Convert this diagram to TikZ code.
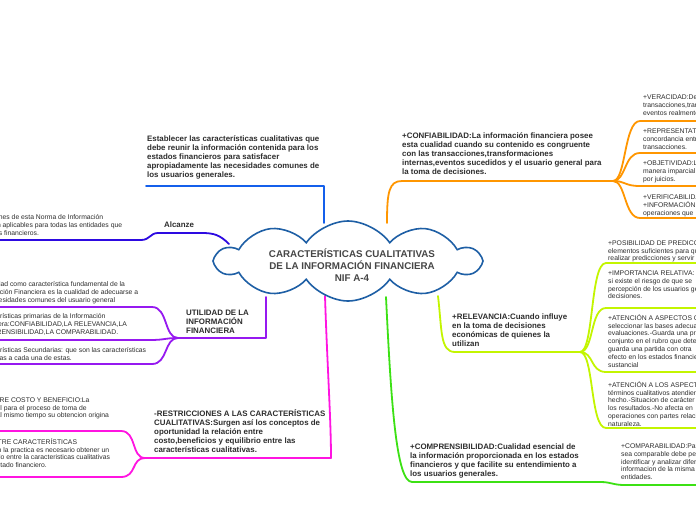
\documentclass[tikz,border=0pt]{standalone}
\usepackage{fontspec}
\setmainfont{Liberation Sans}
\usetikzlibrary{shapes.symbols}
\definecolor{cloudblue}{RGB}{30,95,165}
\definecolor{lblue}{RGB}{20,95,235}
\definecolor{lorange}{RGB}{255,150,0}
\definecolor{lindigo}{RGB}{45,10,225}
\definecolor{lpurple}{RGB}{150,25,240}
\definecolor{lmagenta}{RGB}{255,20,225}
\definecolor{lgreen}{RGB}{60,225,20}
\definecolor{llime}{RGB}{195,245,0}
\definecolor{txtgray}{RGB}{45,45,45}
\definecolor{ttlgray}{RGB}{70,70,70}
\newcommand\hbtop{\rule{0pt}{6pt}}
\newcommand\htop{\rule{0pt}{5pt}}
\begin{document}
\begin{tikzpicture}[x=1pt,y=-1pt,
 txt/.style={font=\fontsize{6.8}{7.9}\selectfont,text=txtgray,align=left,inner sep=0pt,anchor=north west},
 btxt/.style={font=\bfseries\fontsize{7.9}{9}\selectfont,text=txtgray,align=left,inner sep=0pt,anchor=north west},
 br/.style={line width=1.8pt,line cap=round,line join=round}]
\useasboundingbox (0,0) rectangle (696,520);
\clip (0,0) rectangle (696,520);
\fill[white] (0,0) rectangle (696,520);

% blue branch
\coordinate (bc) at (324,223);
\coordinate (bk) at (324,186);
\coordinate (be) at (146,186);
\draw[br,lblue] (bc) -- (bk) -- (be);

% orange branch
\coordinate (oc) at (387,223);
\coordinate (oj) at (613,181);
\draw[br,lorange] (oc) .. controls (387,192) and (389,181) .. (402,181) -- (oj);
\foreach \y/\n in {121/o1,153/o2,186/o3,218/o4}{
  \coordinate (\n) at (700,\y);
  \draw[br,lorange] (oj) .. controls (626,181) and (624,\y) .. (640,\y) -- (\n);
}

% indigo branch
\coordinate (ac) at (229,244);
\coordinate (ae) at (-5,240);
\draw[br,lindigo] (ac) .. controls (220,235) and (214,233) .. (202,233) -- (158,233) .. controls (150,233) and (150,240) .. (141,240) -- (ae);

% purple branch
\coordinate (uc) at (266,297);
\coordinate (uk) at (266,338);
\coordinate (uj) at (178,338);
\coordinate (u1) at (-5,307);
\coordinate (u2) at (-5,340);
\coordinate (u3) at (-5,364);
\draw[br,lpurple] (uc) -- (uk) -- (uj);
\draw[br,lpurple] (uj) .. controls (164,338) and (168,307) .. (152,307) -- (u1);
\draw[br,lpurple] (uj) .. controls (165,338) and (165,340) .. (150,340) -- (u2);
\draw[br,lpurple] (uj) .. controls (164,338) and (168,364) .. (152,364) -- (u3);

% magenta branch
\coordinate (rc) at (325,296);
\coordinate (rk) at (331,458);
\coordinate (rj) at (145,458);
\coordinate (r1) at (-5,431);
\coordinate (r2) at (-5,477);
\draw[br,lmagenta] (rc) .. controls (327,360) and (331,420) .. (rk) -- (rj);
\draw[br,lmagenta] (rj) .. controls (131,458) and (137,431) .. (121,431) -- (r1);
\draw[br,lmagenta] (rj) .. controls (131,458) and (137,477) .. (121,477) -- (r2);

% green branch
\coordinate (gc) at (386,297);
\coordinate (g1) at (700,485);
\draw[br,lgreen] (gc) .. controls (391,400) and (396,482) .. (412,482) -- (600,482) .. controls (612,482) and (612,485) .. (625,485) -- (g1);

% lime branch
\coordinate (lc) at (438,296);
\coordinate (lj) at (580,352);
\draw[br,llime] (lc) .. controls (442,330) and (440,352) .. (455,352) -- (lj);
\foreach \y/\n in {263/l1,308/l2,372/l3,428/l4}{
  \coordinate (\n) at (700,\y);
  \draw[br,llime] (lj) .. controls (594,352) and (590,\y) .. (606,\y) -- (\n);
}

% central cloud
\node[cloud, draw=cloudblue, line width=1.6pt, fill=white, cloud puffs=10, cloud puff arc=110, aspect=3.3, minimum width=263pt, minimum height=80pt] (cloud) at (348,261) {};
\node[font=\bfseries\fontsize{9.8}{11.7}\selectfont, text=ttlgray, align=center, inner sep=0pt] (title) at (352,265) {CARACTERÍSTICAS CUALITATIVAS\\DE LA INFORMACIÓN FINANCIERA\\NIF A-4};

% bold branch texts
\node[btxt] (estab) at (147,135.5) {\hbtop Establecer las características cualitativas que\\debe reunir la información contenida para los\\estados financieros para satisfacer\\apropiadamente las necesidades comunes de\\los usuarios generales.};
\node[btxt] (confi) at (402,132.5) {\hbtop +CONFIABILIDAD:La información financiera posee\\esta cualidad cuando su contenido es congruente\\con las transacciones,transformaciones\\internas,eventos sucedidos y el usuario general para\\la toma de decisiones.};
\node[btxt] (alc) at (164,221.5) {\hbtop Alcanze};
\node[btxt] (util) at (186,309.5) {\hbtop UTILIDAD DE LA\\INFORMACIÓN\\FINANCIERA};
\node[btxt] (restr) at (154,409.5) {\hbtop -RESTRICCIONES A LAS CARACTERÍSTICAS\\CUALITATIVAS:Surgen así los conceptos de\\oportunidad la relación entre\\costo,beneficios y equilibrio entre las\\características cualitativas.};
\node[btxt] (relev) at (452,313.5) {\hbtop +RELEVANCIA:Cuando influye\\en la toma de decisiones\\económicas de quienes la\\utilizan};
\node[btxt] (compr) at (410,443.5) {\hbtop +COMPRENSIBILIDAD:Cualidad esencial de\\la información proporcionada en los estados\\financieros y que facilite su entendimiento a\\los usuarios generales.};

% left clipped texts
\node[txt] (alct) at (-44,214) {\htop Las disposiciones de esta Norma de Información\\Financiera son aplicables para todas las entidades que\\emitan estados financieros.};
\node[txt] (ut1) at (-23,281) {\htop La utilidad como característica fundamental de la\\información Financiera es la cualidad de adecuarse a\\las necesidades comunes del usuario general};
\node[txt] (ut2) at (-24,313) {\htop Características primarias de la Información\\Financiera:CONFIABILIDAD,LA RELEVANCIA,LA\\COMPRENSIBILIDAD,LA COMPARABILIDAD.};
\node[txt] (ut3) at (-24,347) {\htop Características Secundarias: que son las características\\asociadas a cada una de estas.};
\node[txt] (rs1) at (-53,396) {\htop -RELACIÓN ENTRE COSTO Y BENEFICIO:La\\información es útil para el proceso de toma de\\decisiones pero al mismo tiempo su obtencion origina};
\node[txt] (rs2) at (-55,438) {\htop -EQUILIBRIO ENTRE CARACTERÍSTICAS\\CUALITATIVAS:en la practica es necesario obtener un\\equilibrio apropiado entre la caracteristicas cualitativas\\que contiene el estado financiero.};

% right clipped texts (orange)
\node[txt] (ver) at (643,94) {\htop +VERACIDAD:Debe\\transacciones,transformaciones\\eventos realmente};
\node[txt] (rep) at (643,128) {\htop +REPRESENTATIVIDAD:\\concordancia entre\\transacciones.};
\node[txt] (obj) at (643,160) {\htop +OBJETIVIDAD:La\\manera imparcial\\por juicios.};
\node[txt] (veri) at (643,194) {\htop +VERIFICABILIDAD:\\+INFORMACIÓN SUFICIENTE:\\operaciones que};

% right clipped texts (lime)
\node[txt] (pos) at (608,239) {\htop +POSIBILIDAD DE PREDICCIÓN\\elementos suficientes para que\\realizar predicciones y servir};
\node[txt] (imp) at (608,270) {\htop +IMPORTANCIA RELATIVA:\\si existe el riesgo de que se\\percepción de los usuarios generales\\decisiones.};
\node[txt] (aten1) at (608,314) {\htop +ATENCIÓN A ASPECTOS CUANTITATIVOS\\seleccionar las bases adecuadas\\evaluaciones.-Guarda una proporción\\conjunto en el rubro que determina\\guarda una partida con otra\\efecto en los estados financieros\\sustancial};
\node[txt] (aten2) at (608,381) {\htop +ATENCIÓN A LOS ASPECTOS\\términos cualitativos atendiendo\\hecho.-Situacion de carácter\\los resultados.-No afecta en\\operaciones con partes relacionadas\\naturaleza.};

% comparabilidad
\node[txt] (comp) at (621,443) {\htop +COMPARABILIDAD:Para\\sea comparable debe permitir\\identificar y analizar diferencias\\informacion de la misma\\entidades.};
\end{tikzpicture}
\end{document}
